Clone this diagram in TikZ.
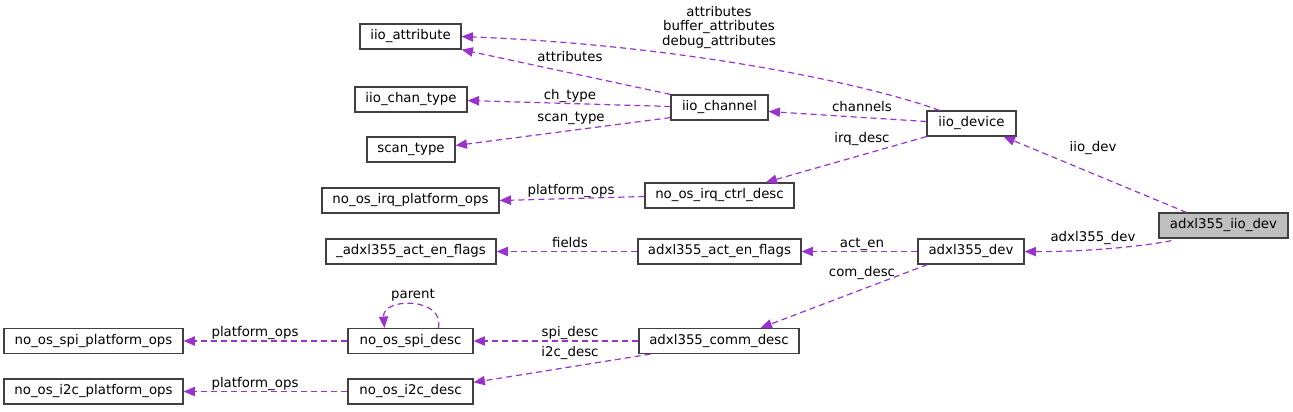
\documentclass[tikz,border=0pt]{standalone}
\usepackage{fontspec}
\setmainfont{DejaVu Sans}
\usetikzlibrary{arrows.meta,calc}
\definecolor{edgec}{RGB}{154,50,205}
\definecolor{hlfill}{RGB}{191,191,191}
\definecolor{boxline}{RGB}{64,64,64}
\begin{document}
\begin{tikzpicture}[x=0.75pt,y=-0.75pt,
  cls/.style={draw=boxline, line width=0.9pt, fill=white, minimum height=18.75pt,
    inner sep=0pt, font=\fontsize{10}{12}\selectfont},
  w/.style={minimum width=#1*0.75pt},
  dep/.style={draw=edgec, line width=0.9pt, dash pattern=on 4.5pt off 3pt,
    -{Triangle[length=8.5pt,width=7pt,fill=edgec]}},
  lbl/.style={font=\fontsize{10}{11}\selectfont, inner sep=0pt, align=center}]
\useasboundingbox (0,0) rectangle (1293,411);

% nodes
\node[cls,w=101] (attr) at (410.5,36.5) {iio\_attribute};
\node[cls,w=112] (chantype) at (411,99.5) {iio\_chan\_type};
\node[cls,w=88] (scantype) at (411,149.5) {scan\_type};
\node[cls,w=97] (chan) at (719.5,107.5) {iio\_channel};
\node[cls,w=89] (dev) at (971.5,123.5) {iio\_device};
\node[cls,w=177] (irqops) at (410.5,200.5) {no\_os\_irq\_platform\_ops};
\node[cls,w=149] (irqctrl) at (719.5,195.5) {no\_os\_irq\_ctrl\_desc};
\node[cls,w=170] (uflags) at (411,251.5) {\_adxl355\_act\_en\_flags};
\node[cls,w=163] (flags) at (719.5,251.5) {adxl355\_act\_en\_flags};
\node[cls,w=106] (adev) at (971,251.5) {adxl355\_dev};
\node[cls,w=129,fill=hlfill] (iiodev) at (1223.5,225.5) {adxl355\_iio\_dev};
\node[cls,w=179] (spiops) at (93.5,341) {no\_os\_spi\_platform\_ops};
\node[cls,w=125] (spidesc) at (410.5,341) {no\_os\_spi\_desc};
\node[cls,w=160] (comm) at (719,341) {adxl355\_comm\_desc};
\node[cls,w=179] (i2cops) at (93.5,391.5) {no\_os\_i2c\_platform\_ops};
\node[cls,w=125] (i2cdesc) at (410.5,391.5) {no\_os\_i2c\_desc};

% edges
\draw[dep] ($(dev.north west)+(13,0)$) .. controls (880,88) and (700,46) .. (attr.east);
\draw[dep] (chan.north west) -- (attr.south east);
\draw[dep] ($(chan.west)+(0,-1)$) -- ($(chantype.east)+(0,1)$);
\draw[dep] ($(chan.south west)+(0,-3)$) -- ($(scantype.east)+(0,-4)$);
\draw[dep] ($(dev.west)+(0,-2)$) -- ($(chan.east)+(0,4)$);
\draw[dep] (dev.south west) -- ($(irqctrl.north east)+(-29,0)$);
\draw[dep] ($(irqctrl.west)+(0,1)$) -- (irqops.east);
\draw[dep] ($(iiodev.north west)+(28,0)$) -- ($(dev.south east)+(-13,0)$);
\draw[dep] ($(iiodev.south west)+(13,2)$) .. controls (1140,247) and (1080,252) .. (adev.east);
\draw[dep] (adev.west) -- (flags.east);
\draw[dep] (flags.west) -- (uflags.east);
\draw[dep] ($(adev.south west)+(10,0)$) -- ($(comm.north east)+(-39,0)$);
\draw[dep] (comm.west) -- (spidesc.east);
\draw[dep] ($(comm.south west)+(12,0)$) -- ($(i2cdesc.north east)+(0,4)$);
\draw[dep] (spidesc.west) -- (spiops.east);
\draw[dep] (i2cdesc.west) -- (i2cops.east);
\draw[dep] ($(spidesc.north west)+(91,0)$) .. controls (445,297) and (382,297) .. ($(spidesc.north west)+(37,0)$);

% labels
\node[lbl] (l1) at (719,27.5) {attributes\\buffer\_attributes\\debug\_attributes};
\node[lbl] (l2) at (570,57) {attributes};
\node[lbl] (l3) at (570,96) {ch\_type};
\node[lbl] (l4) at (571,118) {scan\_type};
\node[lbl] (l5) at (862,107) {channels};
\node[lbl] (l6) at (862,139) {irq\_desc};
\node[lbl] (l7) at (1093,148) {iio\_dev};
\node[lbl] (l8) at (1093,238) {adxl355\_dev};
\node[lbl] (l9) at (862,244) {act\_en};
\node[lbl] (l10) at (862,273) {com\_desc};
\node[lbl] (l11) at (571,191) {platform\_ops};
\node[lbl] (l12) at (570,243) {fields};
\node[lbl] (l13) at (570,333) {spi\_desc};
\node[lbl] (l14) at (570,353) {i2c\_desc};
\node[lbl] (l15) at (255,333) {platform\_ops};
\node[lbl] (l16) at (255,384) {platform\_ops};
\node[lbl] (l17) at (413,295) {parent};
\end{tikzpicture}
\end{document}
